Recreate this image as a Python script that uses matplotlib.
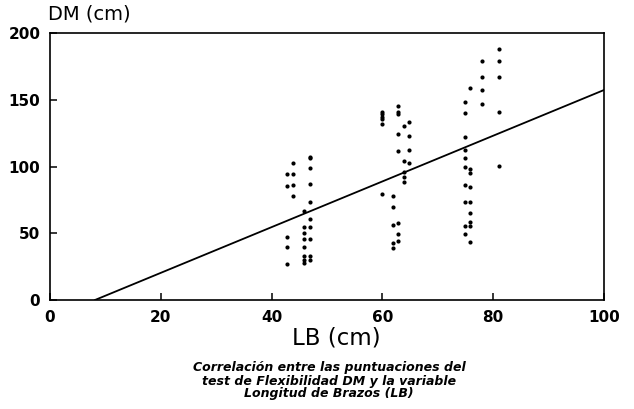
import matplotlib
matplotlib.use("Agg")
import matplotlib.pyplot as plt
import numpy as np

# Scatter data: LB (cm) vs DM (cm)
lb = [42.8]*5 + [43.9]*4 + [45.8]*8 + [46.9]*10 \
   + [59.9]*6 + [61.9]*5 + [62.8]*8 + [63.9]*5 + [64.8]*4 \
   + [74.9]*10 + [75.9]*9 + [77.9]*4 + [81.0]*5
dm = [94.4, 85.4, 47.2, 39.7, 27.0,
      102.6, 94.4, 86.1, 77.9,
      66.7, 54.7, 50.2, 45.7, 39.7, 33.0, 30.0, 27.7,
      107.1, 106.0, 98.9, 86.9, 73.4, 60.7, 54.7, 45.7, 33.0, 30.0,
      140.8, 139.3, 137.1, 135.6, 131.8, 79.4,
      77.9, 69.7, 56.2, 42.7, 39.0,
      145.5, 140.8, 139.3, 124.3, 111.6, 57.7, 49.4, 44.2,
      130.3, 104.1, 95.9, 92.1, 88.4,
      133.3, 122.8, 112.4, 102.6,
      148.5, 140.1, 122.1, 112.4, 106.4, 99.6, 86.1, 73.4, 55.4, 49.4,
      158.8, 98.1, 95.1, 84.6, 73.4, 65.2, 58.4, 55.4, 43.4,
      179.0, 167.0, 157.3, 146.8,
      188.0, 179.0, 167.0, 140.8, 100.4]

# Regression line DM = a + b * LB
slope = 1.712
intercept = -13.9

xticks = [0, 20, 40, 60, 80, 100]
yticks = [0, 50, 100, 150, 200]

plt.rcParams['font.family'] = ['DejaVu Sans']

fig = plt.figure(figsize=(6.34, 4.09), dpi=100)
ax = fig.add_axes([50/634, 1-300/409, 554/634, 267/409])

ax.scatter(lb, dm, s=9, color='black', marker='o', linewidths=0)

x0 = -intercept/slope
xl = np.array([x0, 100])
ax.plot(xl, intercept + slope*xl, color='black', lw=1.3)

ax.set_xlim(0, 100)
ax.set_ylim(0, 200)
ax.set_xticks(xticks)
ax.set_yticks(yticks)
ax.tick_params(direction='in', length=5, width=1.1, labelsize=11, pad=7)
for lab in ax.get_xticklabels() + ax.get_yticklabels():
    lab.set_fontweight('bold')
for s in ax.spines.values():
    s.set_linewidth(1.2)

fig.text(48/634, 1-14/409, 'DM (cm)', fontsize=14, va='center', ha='left')
fig.text(336/634, 1-338/409, 'LB (cm)', fontsize=16.5, va='center', ha='center')
fig.text(329/634, 1-381/409,
         'Correlación entre las puntuaciones del\n'
         'test de Flexibilidad DM y la variable\n'
         'Longitud de Brazos (LB)',
         fontsize=9, style='italic', fontweight='bold',
         ha='center', va='center', linespacing=1.0)

fig.savefig('out.png', dpi=100)
